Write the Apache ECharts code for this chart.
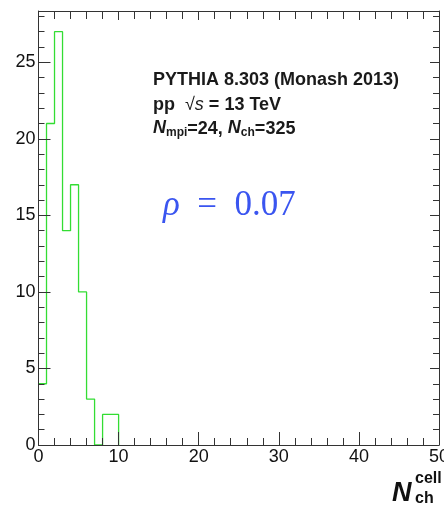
<!DOCTYPE html>
<html>
<head>
<meta charset="utf-8">
<script src="https://cdn.jsdelivr.net/npm/echarts@6/dist/echarts.min.js"></script>
<style>
  html, body { margin: 0; padding: 0; background: #fff; }
  #chart { width: 444px; height: 514px; }
</style>
</head>
<body>
<div id="chart"></div>
<script>
// histogram: bin lower edges (width 1) and counts
const binEdges = [0, 1, 2, 3, 4, 5, 6, 7, 8, 9]
const counts = [4, 21, 27, 14, 17, 10, 3, 0, 2, 2]
const xTicks = [0, 10, 20, 30, 40, 50]
const yTicks = [0, 5, 10, 15, 20, 25]

const font = 'Liberation Sans, Arial, sans-serif'
const axisColor = '#333'

// step points: value of bin i held from edge i to edge i+1, then drop to 0
const points = binEdges.map((e, i) => [e, counts[i]])
points.push([binEdges[binEdges.length - 1] + 1, 0])

const frameAxis = (pos, isX) => ({
  type: 'value',
  position: pos,
  min: 0,
  max: isX ? 50 : 28.35,
  interval: isX ? 10 : 5,
  z: 5,
  axisLine: { show: true, onZero: false, lineStyle: { color: axisColor, width: 1 } },
  axisTick: { show: true, inside: true, length: isX ? 13 : 12, lineStyle: { color: axisColor } },
  minorTick: { show: true, splitNumber: 5, length: isX ? 7 : 6, lineStyle: { color: axisColor } },
  axisLabel: { show: false },
  splitLine: { show: false }
})

const xMain = Object.assign(frameAxis('bottom', true), {
  axisLabel: {
    show: true, margin: 3, fontSize: 18, color: '#111', fontFamily: font,
    customValues: xTicks
  }
})
const yMain = Object.assign(frameAxis('left', false), {
  axisLabel: {
    show: true, margin: 3, fontSize: 18, color: '#111', fontFamily: font,
    customValues: yTicks
  }
})
const xTop = frameAxis('top', true)
xTop.axisTick.length = 9
xTop.minorTick.length = 8
const yRight = frameAxis('right', false)
yRight.axisTick.length = 9
yRight.minorTick.length = 6

const option = {
  animation: false,
  backgroundColor: '#fff',
  grid: { left: 38.5, right: 5, top: 11, bottom: 69, containLabel: false, outerBoundsMode: 'none' },
  xAxis: [xMain, xTop],
  yAxis: [yMain, yRight],
  series: [
    {
      type: 'line',
      step: 'end',
      data: points,
      symbol: 'none',
      z: 3,
      lineStyle: { color: '#33dd33', width: 1.3 }
    }
  ],
  graphic: [
    {
      type: 'text', left: 153, top: 71,
      style: { text: 'PYTHIA 8.303 (Monash 2013)', font: 'bold 18px ' + font, fill: '#1a1a1a' }
    },
    {
      type: 'text', left: 153, top: 96,
      style: {
        text: 'pp  {r|√}{i|s} = 13 TeV',
        font: 'bold 18px ' + font, fill: '#1a1a1a',
        rich: {
          r: { fontSize: 18, fontFamily: font },
          i: { fontSize: 18, fontStyle: 'italic', fontFamily: font }
        }
      }
    },
    {
      type: 'text', left: 153, top: 119,
      style: {
        text: '{n|N}{sub|mpi}=24, {n|N}{sub|ch}=325',
        font: 'bold 18px ' + font, fill: '#1a1a1a',
        rich: {
          n: { fontSize: 18, fontStyle: 'italic', fontWeight: 'bold', fontFamily: font, verticalAlign: 'top' },
          sub: { fontSize: 12, fontWeight: 'bold', fontFamily: font, padding: [8, 0, 0, 0] }
        }
      }
    },
    {
      type: 'text', left: 163, top: 188,
      style: {
        text: '{g|ρ}  =  0.07',
        font: '35px Liberation Serif, DejaVu Serif, serif',
        fill: '#3a55f0',
        rich: {
          g: { fontSize: 35, fontStyle: 'italic', fontFamily: 'Liberation Serif, DejaVu Serif, serif' }
        }
      }
    },
    {
      type: 'text', left: 392, top: 480,
      style: { text: 'N', font: 'italic bold 27px ' + font, fill: '#111' }
    },
    {
      type: 'text', left: 415, top: 471,
      style: { text: 'cell', font: 'bold 16px ' + font, fill: '#111' }
    },
    {
      type: 'text', left: 415, top: 491,
      style: { text: 'ch', font: 'bold 16px ' + font, fill: '#111' }
    }
  ]
}

const chart = echarts.init(document.getElementById('chart'))
chart.setOption(option)
</script>
</body>
</html>
